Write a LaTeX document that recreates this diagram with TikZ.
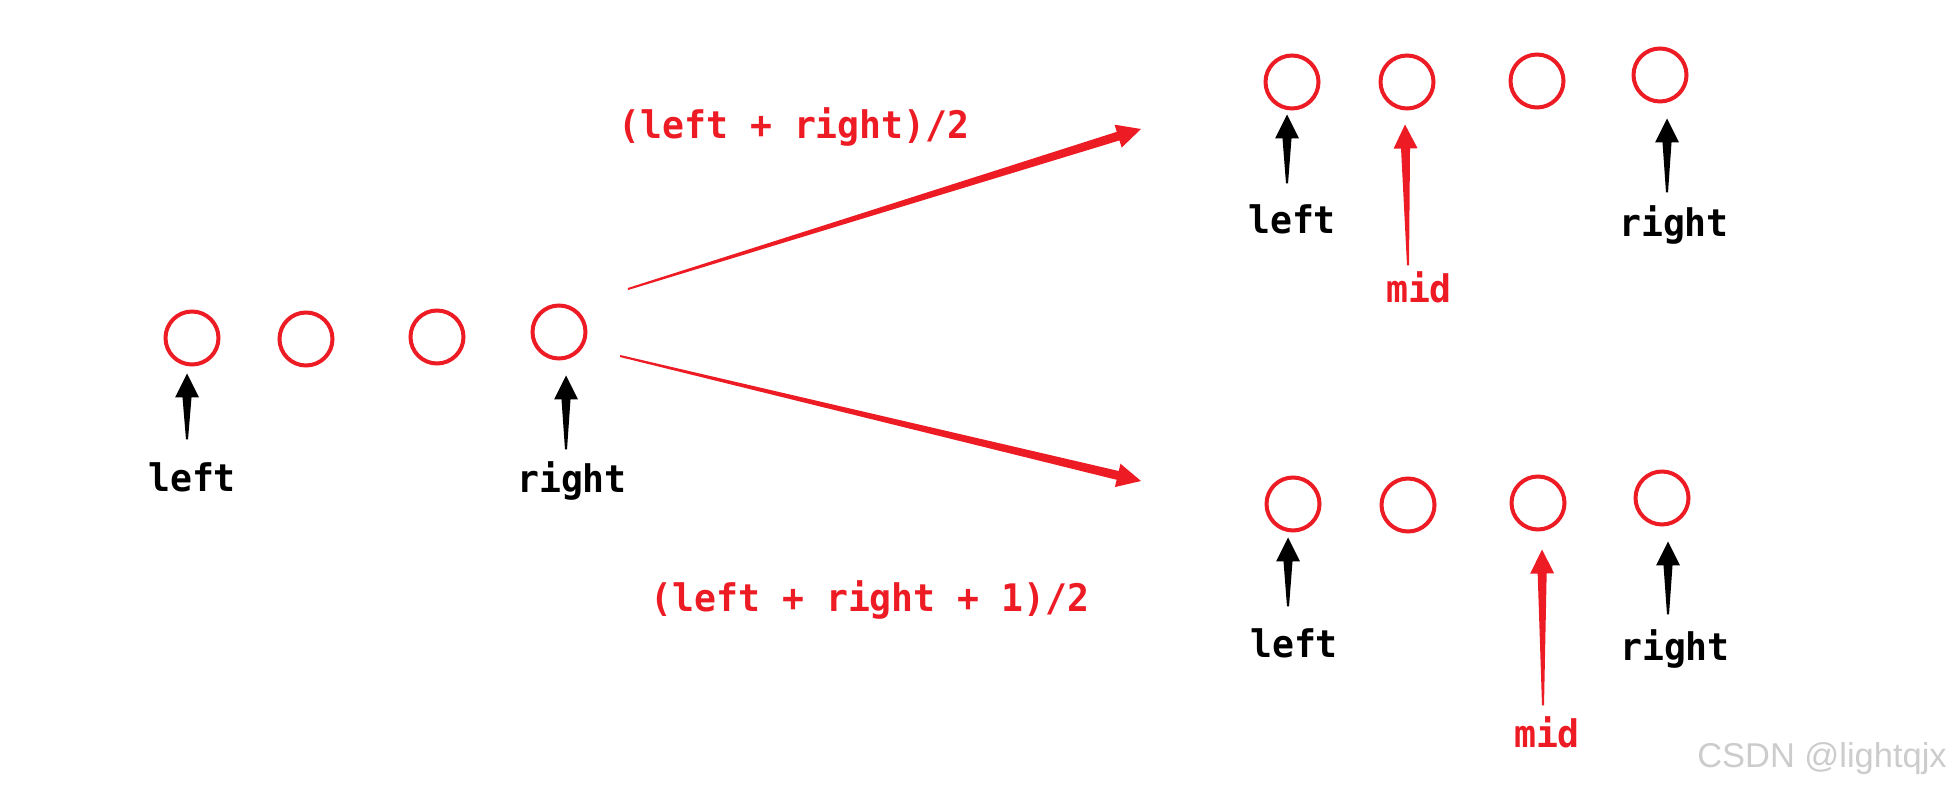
\documentclass[tikz,border=0pt]{standalone}
\usepackage{fontspec}
\usepackage{xcolor}
\usepackage{tikz}
\usetikzlibrary{calc}
\newfontfamily\idxfont{DejaVu Sans Mono}[FakeStretch=0.96]
\newfontfamily\markfont{Liberation Sans}
\definecolor{ptred}{HTML}{ED1C24}
\definecolor{markgray}{HTML}{CCCCCC}

% tapered pointer: [colour]{tail}{tip}
\newcommand{\pointer}[3][black]{%
  \coordinate (ptail) at (#2);
  \coordinate (ptip) at (#3);
  \coordinate (pbase) at ($(ptip)!2.4mm!(ptail)$);
  \fill[#1] ($(ptail)!0.1mm!90:(ptip)$) -- ($(pbase)!0.45mm!90:(ptip)$)
    -- ($(pbase)!1.2mm!90:(ptip)$) -- (ptip)
    -- ($(pbase)!1.2mm!-90:(ptip)$) -- ($(pbase)!0.45mm!-90:(ptip)$)
    -- ($(ptail)!0.1mm!-90:(ptip)$) -- cycle;}

\begin{document}
\begin{tikzpicture}[
    x=0.1mm, y=-0.1mm,
    slot/.style={circle, draw=ptred, line width=0.4mm, minimum size=5.3mm, inner sep=0pt, outer sep=0.9mm},
    idx/.style={font=\idxfont\bfseries\fontsize{10.8pt}{13pt}\selectfont, inner sep=0pt, anchor=base},
    redidx/.style={idx, text=ptred}
  ]
    \useasboundingbox (0,0) rectangle (1956,791);

    % the three rows of slots
    \foreach \i/\x/\y in {1/192/338, 2/306/339, 3/437/337, 4/559/332}
      \node[slot] (a\i) at (\x,\y) {};
    \foreach \i/\x/\y in {1/1292/82, 2/1407/82, 3/1537/81, 4/1660/75}
      \node[slot] (b\i) at (\x,\y) {};
    \foreach \i/\x/\y in {1/1293/504, 2/1408/505, 3/1538/503, 4/1662/498}
      \node[slot] (c\i) at (\x,\y) {};

    % labels
    \node[idx] (aleft) at (192,492) {left};
    \node[idx] (aright) at (572,493) {right};
    \node[idx] (bleft) at (1292,234) {left};
    \node[idx] (bright) at (1674,237) {right};
    \node[redidx] (bmid) at (1419,303) {mid};
    \node[idx] (cleft) at (1294,657) {left};
    \node[idx] (cright) at (1675,660) {right};
    \node[redidx] (cmid) at (1547,747) {mid};
    \node[redidx] (upf) at (794,139) {(left + right)/2};
    \node[redidx] (downf) at (870,612) {(left + right + 1)/2};

    % pointers
    \pointer{$(aleft.north)+(-5,-23)$}{$(a1.south)+(-5,0)$}
    \pointer{$(aright.north)+(-6,-12)$}{$(a4.south)+(7,8)$}
    \pointer{$(bleft.north)+(-5,-21)$}{$(b1.south)+(-5,-3)$}
    \pointer[ptred]{$(bmid.north)+(-11,-6)$}{$(b2.south)+(-2,7)$}
    \pointer{$(bright.north)+(-7,-13)$}{$(b4.south)+(7,8)$}
    \pointer{$(cleft.north)+(-6,-21)$}{$(c1.south)+(-5,-2)$}
    \pointer[ptred]{$(cmid.north)+(-4,-10)$}{$(c3.south)+(4,11)$}
    \pointer{$(cright.north)+(-7,-14)$}{$(c4.south)+(6,8)$}

    % the two branches
    \coordinate (upfrom) at (628,289);
    \coordinate (upto) at (1141,129);
    \coordinate (downfrom) at (620,356);
    \coordinate (downto) at (1141,481);
    \pointer[ptred]{upfrom}{upto}
    \pointer[ptred]{downfrom}{downto}

    \node[font=\markfont\fontsize{9.8pt}{12pt}\selectfont, text=markgray, anchor=base, inner sep=0pt] (mark) at (1822,767) {CSDN @lightqjx};
  \end{tikzpicture}
\end{document}
